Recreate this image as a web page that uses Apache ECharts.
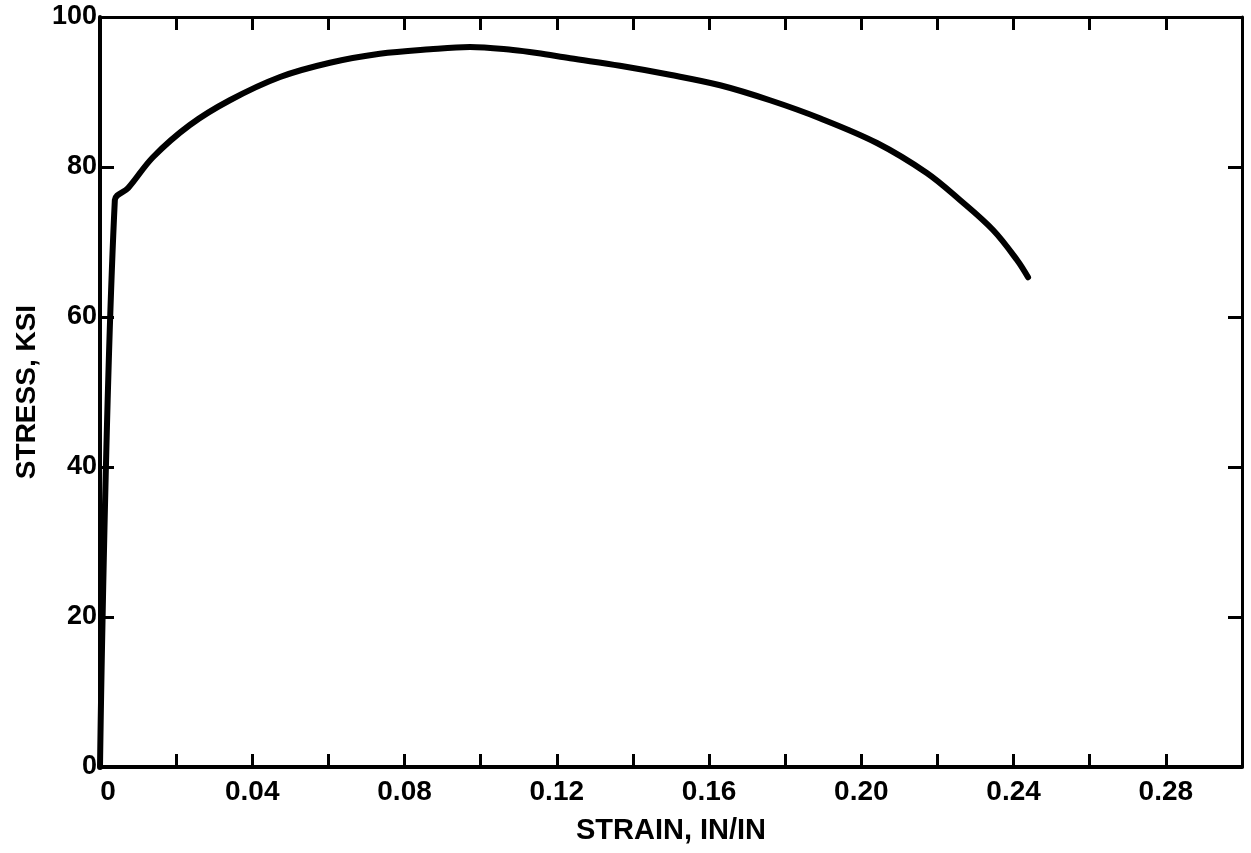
<!DOCTYPE html>
<html>
<head>
<meta charset="utf-8">
<script src="https://cdn.jsdelivr.net/npm/echarts@6/dist/echarts.min.js"></script>
<style>
html,body{margin:0;padding:0;background:#fff;}
#chart{width:1251px;height:853px;}
</style>
</head>
<body>
<div id="chart"></div>
<script>
// Strain (in/in) and stress (ksi)
const strain = [0, 0.0039, 0.0074, 0.0139, 0.0236, 0.0341, 0.0473, 0.0604, 0.0735, 0.0867, 0.0972, 0.1085, 0.1148, 0.1235, 0.1366, 0.1497, 0.1629, 0.1760, 0.1891, 0.2041, 0.2172, 0.2259, 0.2346, 0.2409, 0.2438];
const stress = [0, 75.6, 77.2, 81.3, 85.6, 88.9, 92.0, 93.9, 95.1, 95.7, 96.0, 95.6, 95.2, 94.5, 93.5, 92.3, 90.9, 88.9, 86.5, 83.2, 79.2, 75.6, 71.6, 67.6, 65.3];
const xMin = 0, xMax = 0.30, xTick = 0.02, xLabelStep = 0.04;
const yMin = 0, yMax = 100, yTick = 20;
const xTitle = 'STRAIN, IN/IN';
const yTitle = 'STRESS, KSI';

const FONT = '"Liberation Sans", Arial, Helvetica, sans-serif';
const chart = echarts.init(document.getElementById('chart'));
const pts = strain.map((s, i) => [s, stress[i]]);

function xLabel(v) {
  const r = v / xLabelStep;
  if (Math.abs(r - Math.round(r)) > 1e-6) return '';
  if (Math.abs(v) < 1e-9) return '{z|0}';
  return v.toFixed(2);
}

chart.setOption({
  animation: false,
  backgroundColor: '#ffffff',
  grid: { left: 100, right: 9, top: 17, bottom: 86, containLabel: false },
  xAxis: [{
    type: 'value', min: xMin, max: xMax, interval: xTick, position: 'bottom',
    name: xTitle, nameLocation: 'middle', nameGap: 49,
    nameTextStyle: { fontFamily: FONT, fontWeight: 'bold', fontSize: 29, color: '#000' },
    axisLine: { show: true, onZero: false, lineStyle: { color: '#000', width: 4 } },
    axisTick: { show: true, inside: true, length: 13, lineStyle: { color: '#000', width: 3 } },
    axisLabel: { show: true, margin: 11, formatter: xLabel, fontFamily: FONT, fontWeight: 'bold', fontSize: 28, color: '#000',
      rich: { z: { fontFamily: FONT, fontWeight: 'bold', fontSize: 28, color: '#000', padding: [0, 0, 0, 16] } } },
    splitLine: { show: false }
  }, {
    type: 'value', min: xMin, max: xMax, interval: xTick, position: 'top',
    axisLine: { show: true, onZero: false, lineStyle: { color: '#000', width: 3 } },
    axisTick: { show: true, inside: true, length: 13, lineStyle: { color: '#000', width: 3 } },
    axisLabel: { show: false }, splitLine: { show: false }
  }],
  yAxis: [{
    type: 'value', min: yMin, max: yMax, interval: yTick, position: 'left',
    name: yTitle, nameLocation: 'middle', nameGap: 56, nameRotate: 90,
    nameTextStyle: { fontFamily: FONT, fontWeight: 'bold', fontSize: 28, color: '#000' },
    axisLine: { show: true, onZero: false, lineStyle: { color: '#000', width: 4 } },
    axisTick: { show: true, inside: true, length: 14, lineStyle: { color: '#000', width: 3 } },
    axisLabel: { show: true, margin: 3, fontFamily: FONT, fontWeight: 'bold', fontSize: 27, color: '#000' },
    splitLine: { show: false }
  }, {
    type: 'value', min: yMin, max: yMax, interval: yTick, position: 'right',
    axisLine: { show: true, onZero: false, lineStyle: { color: '#000', width: 3 } },
    axisTick: { show: true, inside: true, length: 14, lineStyle: { color: '#000', width: 3 } },
    axisLabel: { show: false }, splitLine: { show: false }
  }],
  series: [{
    type: 'line', xAxisIndex: 0, yAxisIndex: 0,
    data: pts, showSymbol: false, smooth: 0.35,
    lineStyle: { color: '#000', width: 6, cap: 'round', join: 'round' },
    z: 3
  }]
});
</script>
</body>
</html>
